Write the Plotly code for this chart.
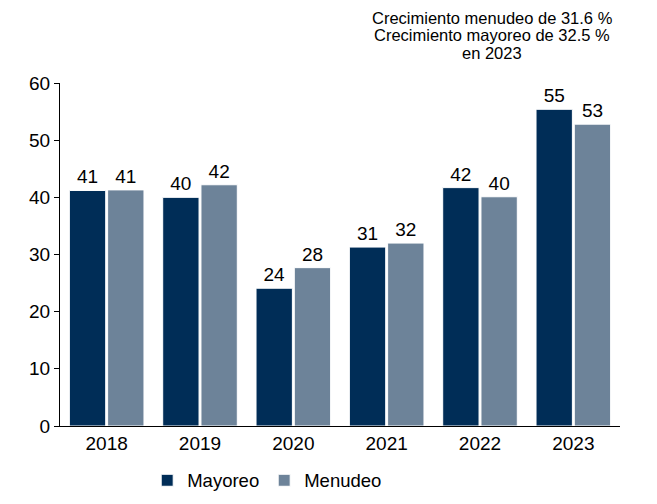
import plotly.graph_objects as go

YEARS = ['2018', '2019', '2020', '2021', '2022', '2023']
MAYOREO = [41.2, 40.0, 24.1, 31.3, 41.7, 55.4]
MENUDEO = [41.3, 42.2, 27.7, 32.0, 40.1, 52.8]

NOTE_LINES = ['Crecimiento menudeo de 31.6 %', 'Crecimiento mayoreo de 32.5 %', 'en 2023']

FONT = 'Liberation Sans, Arial, sans-serif'

fig = go.Figure()
fig.add_trace(go.Bar(x=YEARS, y=MAYOREO, name='Mayoreo',
                     marker=dict(color='#002d57', line=dict(color='white', width=1)),
                     texttemplate='%{y:.0f}', textposition='outside',
                     textfont=dict(size=19, color='black'), cliponaxis=False))
fig.add_trace(go.Bar(x=YEARS, y=MENUDEO, name='Menudeo',
                     marker=dict(color='#6d8399', line=dict(color='white', width=1)),
                     texttemplate='%{y:.0f}', textposition='outside',
                     textfont=dict(size=19, color='black'), cliponaxis=False))

# three lines placed one by one, to keep the tight line spacing
for i, line in enumerate(NOTE_LINES):
    fig.add_annotation(text=line, xref='paper', yref='paper', x=0.772, y=1.19 - i * 0.051,
                       xanchor='center', yanchor='middle', showarrow=False, borderpad=0,
                       font=dict(size=16.5, color='black'))

fig.update_layout(width=657, height=504, plot_bgcolor='white', paper_bgcolor='white',
                  margin=dict(l=52, r=45, t=75, b=75),
                  font=dict(family=FONT, size=19, color='black'),
                  barmode='group', bargap=0.18, bargroupgap=0.05,
                  uniformtext=dict(minsize=19, mode='show'),
                  legend=dict(orientation='h', x=0.37, xanchor='center', y=-0.215, yanchor='bottom',
                              font=dict(size=18.5), itemwidth=30, traceorder='normal'),
                  showlegend=True)
fig.update_yaxes(range=[0, 60], dtick=10, showline=True, linecolor='black', linewidth=1,
                 ticks='outside', ticklen=5, tickcolor='black', showgrid=False, zeroline=False,
                 tickfont=dict(size=19))
fig.update_xaxes(showline=True, linecolor='black', linewidth=1, ticks='', showgrid=False,
                 tickfont=dict(size=19))

fig.write_html("out.html")
